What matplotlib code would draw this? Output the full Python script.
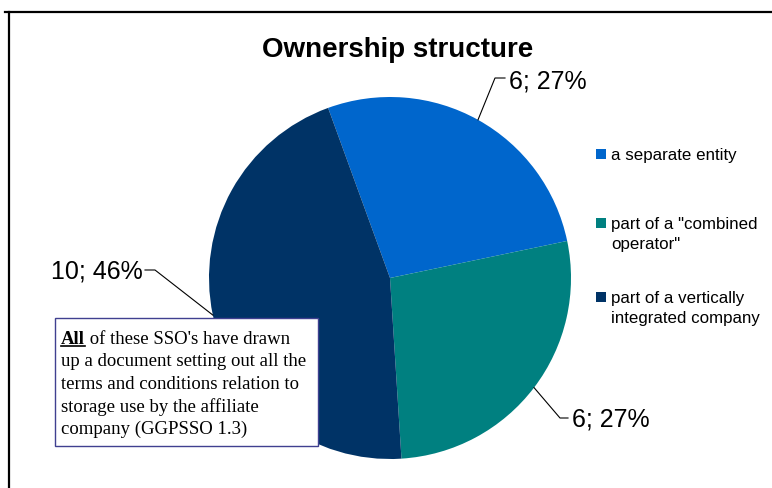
import numpy as np
import matplotlib.pyplot as plt
from matplotlib.patches import Rectangle
from matplotlib.lines import Line2D

# data
categories = ['a separate entity', 'part of a "combined\noperator"',
              'part of a vertically\nintegrated company']
values = [6, 6, 10]
pct_labels = ['27%', '27%', '46%']
colors = ['#0066CC', '#008080', '#003366']

note_lines = ['of these SSO\'s have drawn',
              'up a document setting out all the',
              'terms and conditions relation to',
              'storage use by the affiliate',
              'company (GGPSSO 1.3)']

W, H = 772, 488
fig = plt.figure(figsize=(W / 100, H / 100), dpi=100)

def fx(px):
    return px / W

def fy(py):
    return 1 - py / H

# pie axes: centre (390, 278), radius 181 px
cx, cy, r = 390, 278, 181
ax = fig.add_axes([fx(cx - r), fy(cy + r), 2 * r / W, 2 * r / H])
wedges, _ = ax.pie(values, colors=colors, startangle=110, counterclock=False,
                   radius=1, wedgeprops=dict(linewidth=0))
ax.set_xlim(-1, 1)
ax.set_ylim(-1, 1)
ax.axis('off')

def to_data(px, py):
    return (px - cx) / r, (cy - py) / r

# data labels with leader lines
elbows = [(495, 78), (560, 418), (155, 270)]
ends = [(505, 78), (568, 418), (145, 270)]
text_pos = [(509, 88, 'left'), (572, 427, 'left'), (143, 278, 'right')]
for w, v, p, el, en, tp in zip(wedges, values, pct_labels, elbows, ends, text_pos):
    mid = np.deg2rad((w.theta1 + w.theta2) / 2)
    x0, y0 = np.cos(mid), np.sin(mid)
    x1, y1 = to_data(*el)
    x2, y2 = to_data(*en)
    ax.plot([x0, x1, x2], [y0, y1, y2], color='black', lw=0.8, clip_on=False)
    tx, ty = to_data(tp[0], tp[1])
    ax.text(tx, ty, f'{v}; {p}', ha=tp[2], va='baseline', fontsize=18,
            family='Liberation Sans', clip_on=False)

# title
fig.text(fx(398), fy(57), 'Ownership structure', ha='center', va='baseline',
         fontsize=20, fontweight='bold', family='Liberation Sans')

# legend drawn by hand
leg_y = [149, 218, 292]
for lab, col, y in zip(categories, colors, leg_y):
    fig.add_artist(Rectangle((fx(596), fy(y + 10)), 10 / W, 10 / H,
                             transform=fig.transFigure, facecolor=col,
                             edgecolor='none'))
    for k, line in enumerate(lab.split('\n')):
        fig.text(fx(611), fy(y + 11 + k * 19.5), line, ha='left', va='baseline',
                 fontsize=12.2, family='Liberation Sans')

# note box
fig.add_artist(Rectangle((fx(55), fy(446)), (318 - 55) / W, (446 - 318) / H,
                         transform=fig.transFigure, facecolor='white',
                         edgecolor='#404090', lw=1, zorder=5))
base0, step = 343.5, 22.7
t_all = fig.text(fx(61), fy(base0), 'All', ha='left', va='baseline', fontsize=13.5,
                 fontweight='bold', family='Liberation Serif', zorder=6)
fig.canvas.draw()
bb = t_all.get_window_extent()
w_all = bb.width
fig.add_artist(Line2D([fx(61), fx(61 + w_all)], [fy(base0 + 2.5), fy(base0 + 2.5)],
                      transform=fig.transFigure, color='black', lw=1.2, zorder=6))
for k, line in enumerate(note_lines):
    x0 = 61 + w_all if k == 0 else 61
    txt = ' ' + line if k == 0 else line
    fig.text(fx(x0), fy(base0 + k * step), txt, ha='left', va='baseline',
             fontsize=13.5, family='Liberation Serif', zorder=6)

# chart border (top and left visible)
fig.add_artist(Line2D([fx(5), fx(W)], [fy(12), fy(12)], transform=fig.transFigure,
                      color='black', lw=1.6))
fig.add_artist(Line2D([fx(9), fx(9)], [fy(12), fy(H)], transform=fig.transFigure,
                      color='black', lw=1.6))

fig.savefig('out.png', dpi=100)
